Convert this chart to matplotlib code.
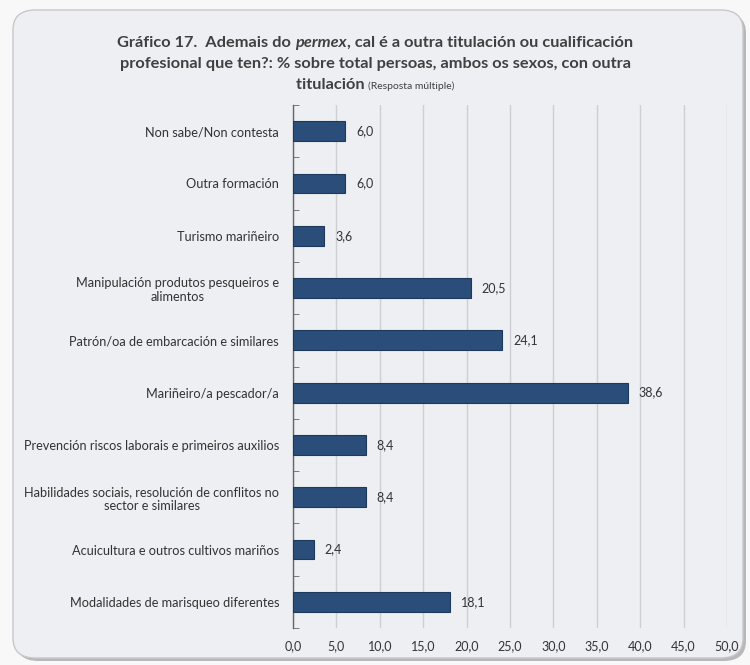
import matplotlib
matplotlib.use("Agg")
import matplotlib.pyplot as plt
from matplotlib.patches import FancyBboxPatch

plt.rcParams['font.family'] = ['Lato', 'DejaVu Sans']

categories = [
    "Non sabe/Non contesta",
    "Outra formación",
    "Turismo mariñeiro",
    "Manipulación produtos pesqueiros e\nalimentos",
    "Patrón/oa de embarcación e similares",
    "Mariñeiro/a pescador/a",
    "Prevención riscos laborais e primeiros auxilios",
    "Habilidades sociais, resolución de conflitos no\nsector e similares",
    "Acuicultura e outros cultivos mariños",
    "Modalidades de marisqueo diferentes",
]
values = [6.0, 6.0, 3.6, 20.5, 24.1, 38.6, 8.4, 8.4, 2.4, 18.1]
xticks = [0, 5, 10, 15, 20, 25, 30, 35, 40, 45, 50]

W, H = 750, 665
fig = plt.figure(figsize=(7.5, 6.65), dpi=100)
fig.patch.set_facecolor('#f8f8f9')

shadow = FancyBboxPatch((16 / W, 4 / H), 730 / W, 648 / H,
                        boxstyle="round,pad=0,rounding_size=0.03",
                        transform=fig.transFigure, facecolor='#b8b8bc',
                        edgecolor='none', zorder=-3)
panel = FancyBboxPatch((13 / W, 7 / H), 730 / W, 648 / H,
                       boxstyle="round,pad=0,rounding_size=0.03",
                       transform=fig.transFigure, facecolor='#eeeff3',
                       edgecolor='#c8c8cc', linewidth=1.0, zorder=-2)
fig.patches.extend([shadow, panel])

ax = fig.add_axes([293 / W, 1 - 628 / H, (727 - 293) / W, (628 - 105) / H])
ax.set_facecolor('none')
ax.set_zorder(1)

y = list(range(len(categories)))
ax.barh(y, values, height=0.38, color='#2a4e79', edgecolor='#1d3a5e',
        linewidth=0.8, zorder=3)
for yi, v in zip(y, values):
    ax.text(v + 1.25, yi, f"{v:.1f}".replace('.', ','), va='center', ha='left',
            fontsize=9, color='#333333')

ax.set_xlim(0, 50)
ax.set_ylim(len(categories) - 0.5, -0.5)
ax.set_xticks(xticks)
ax.set_xticklabels([f"{t:.1f}".replace('.', ',') for t in xticks],
                   fontsize=9, color='#333333')
ax.set_yticks(y)
ax.set_yticklabels(categories, fontsize=9.2, color='#333333',
                   multialignment='center')
ax.tick_params(axis='y', length=0, pad=10)
ax.tick_params(axis='x', length=0, pad=9)
ax.set_yticks([i + 0.5 for i in range(-1, len(categories))], minor=True)
ax.tick_params(axis='y', which='minor', direction='in', length=4,
               color='#666666')

ax.grid(axis='x', color='#cfcfd3', linewidth=1.0, zorder=0)
ax.set_axisbelow(True)
for s in ['top', 'right', 'bottom']:
    ax.spines[s].set_visible(False)
ax.spines['left'].set_color('#666666')
ax.spines['left'].set_linewidth(1.0)

# title built from pieces so that bold, italic and small parts sit on one line
title_lines = [
    [("Gráfico 17.  Ademais do ", dict(fontweight='bold', fontsize=11.8)),
     ("permex", dict(fontweight='bold', fontstyle='italic', fontsize=11.8)),
     (", cal é a outra titulación ou cualificación", dict(fontweight='bold', fontsize=11.8))],
    [("profesional que ten?: % sobre total persoas, ambos os sexos, con outra",
      dict(fontweight='bold', fontsize=11.8))],
    [("titulación ", dict(fontweight='bold', fontsize=11.8)),
     ("(Resposta múltiple)", dict(fontsize=7.5))],
]
title_y = [42, 63, 84]
fig.canvas.draw()
r = fig.canvas.get_renderer()
for pieces, ypx in zip(title_lines, title_y):
    texts = []
    for s, kw in pieces:
        t = fig.text(0, 1 - ypx / H, s, ha='left', va='baseline',
                     color='#404040', **kw)
        texts.append(t)
    widths = [t.get_window_extent(renderer=r).width for t in texts]
    x = (W - sum(widths)) / 2
    for t, w in zip(texts, widths):
        t.set_position((x / W, 1 - (ypx + 5) / H))
        x += w

fig.savefig("out.png", dpi=100, facecolor=fig.get_facecolor())
